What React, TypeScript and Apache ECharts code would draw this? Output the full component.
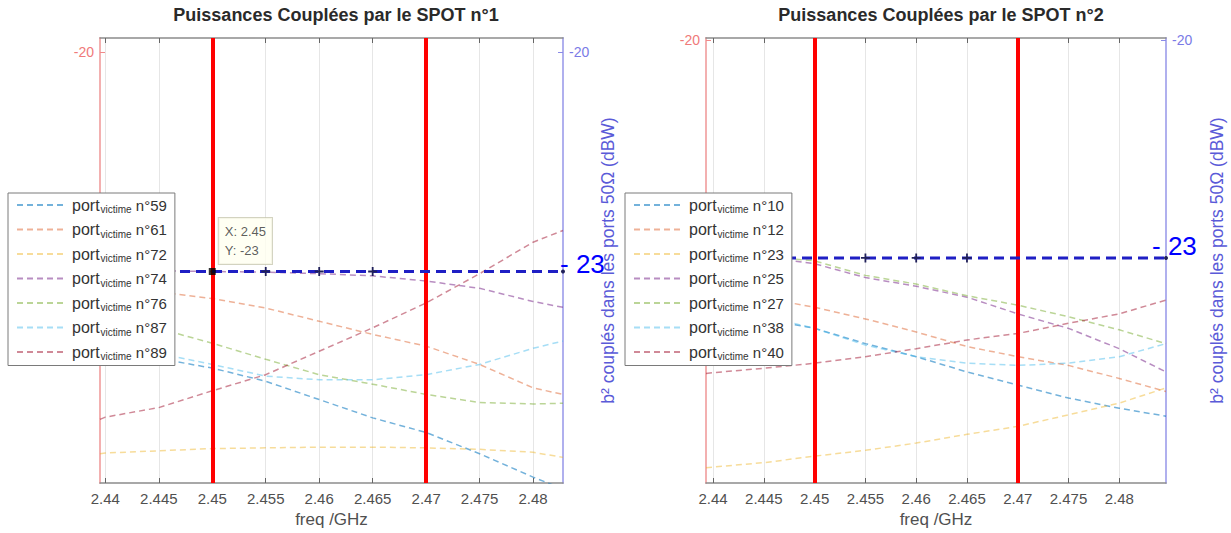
import React, { useEffect, useRef } from 'react';
import * as echarts from 'echarts';

// ---------- data ----------
const xTickLabels = ['2.44', '2.445', '2.45', '2.455', '2.46', '2.465', '2.47', '2.475', '2.48'];
const xTicks = xTickLabels.map(Number);

const freq1 = [2.4395, 2.44, 2.445, 2.45, 2.455, 2.46, 2.465, 2.47, 2.475, 2.48, 2.4828];
const freq2 = [2.4393, 2.44, 2.445, 2.45, 2.455, 2.46, 2.465, 2.47, 2.475, 2.48, 2.4846];

const names1 = ['n°59', 'n°61', 'n°72', 'n°74', 'n°76', 'n°87', 'n°89'];
const names2 = ['n°10', 'n°12', 'n°23', 'n°25', 'n°27', 'n°38', 'n°40'];

// SPOT n°1 (dBW)
const p59 = [-24.03, -24.05, -24.19, -24.32, -24.5, -24.75, -25.0, -25.2, -25.49, -25.81, -25.97];
const p61 = [-23.19, -23.2, -23.28, -23.37, -23.5, -23.68, -23.86, -24.02, -24.27, -24.59, -24.68];
const p72 = [-25.49, -25.48, -25.45, -25.42, -25.41, -25.4, -25.4, -25.41, -25.43, -25.47, -25.54];
const p74 = [-22.97, -22.98, -22.99, -23.0, -23.01, -23.03, -23.06, -23.13, -23.23, -23.41, -23.49];
const p76 = [-23.62, -23.65, -23.78, -23.98, -24.2, -24.41, -24.54, -24.68, -24.79, -24.81, -24.8];
const p87 = [-23.98, -24.0, -24.12, -24.27, -24.43, -24.48, -24.48, -24.41, -24.27, -24.05, -23.95];
const p89 = [-25.02, -24.99, -24.86, -24.63, -24.41, -24.09, -23.77, -23.43, -23.03, -22.6, -22.44];

// SPOT n°2 (dBW)
const p10 = [-23.72, -23.74, -23.84, -23.97, -24.18, -24.36, -24.57, -24.75, -24.93, -25.07, -25.18];
const p12 = [-23.42, -23.44, -23.55, -23.68, -23.84, -24.02, -24.22, -24.36, -24.48, -24.66, -24.84];
const p23 = [-25.89, -25.88, -25.82, -25.73, -25.65, -25.55, -25.43, -25.32, -25.16, -25.0, -24.79];
const p25 = [-22.95, -22.96, -22.99, -23.08, -23.27, -23.39, -23.54, -23.77, -23.97, -24.25, -24.57];
const p27 = [-22.94, -22.95, -22.98, -23.04, -23.24, -23.36, -23.52, -23.65, -23.81, -23.99, -24.18];
const p38 = [-23.68, -23.7, -23.8, -23.97, -24.2, -24.36, -24.45, -24.48, -24.45, -24.36, -24.18];
const p40 = [-24.59, -24.58, -24.52, -24.45, -24.36, -24.25, -24.13, -24.04, -23.9, -23.77, -23.58];

const values1 = [p59, p61, p72, p74, p76, p87, p89];
const values2 = [p10, p12, p23, p25, p27, p38, p40];

const threshold = -23;
const thresholdLabel = '- 23';
const markerFreqs = [2.455, 2.46, 2.465];
const cursorFreqs = [2.45, 2.47];
const datatip = [2.45, -23];
const yTickValues = [-20];
const yRange1 = [-25.89, -19.81];
const yRange2 = [-26.1, -19.97];
const xRange1 = [2.4395, 2.4828];
const xRange2 = [2.4393, 2.4846];

const titles = ['Puissances Couplées par le SPOT n°1', 'Puissances Couplées par le SPOT n°2'];
const xName = 'freq /GHz';
const yRightName = 'b² couplés dans les ports 50Ω (dBW)';

const lineColors = [
  'rgba(0,114,189,0.55)',
  'rgba(217,83,25,0.45)',
  'rgba(237,177,32,0.45)',
  'rgba(126,47,142,0.55)',
  'rgba(119,172,48,0.5)',
  'rgba(77,190,238,0.5)',
  'rgba(162,20,47,0.5)',
];

const FONT = '"Liberation Sans", Arial, Helvetica, sans-serif';
const PLUS = 'path://M4,0H6V10H4ZM0,4H10V6H0Z';

function buildOption() {
  const grids = [
    { left: 100, top: 38, width: 463, height: 448 },
    { left: 706, top: 38, width: 460, height: 447 },
  ];
  const xRanges = [xRange1, xRange2];
  const yRanges = [yRange1, yRange2];
  const rightNameGaps = [36, 42];

  const xAxis: any[] = [];
  const yAxis: any[] = [];
  [0, 1].forEach((g) => {
    xAxis.push({
      gridIndex: g,
      type: 'value',
      min: xRanges[g][0],
      max: xRanges[g][1],
      splitNumber: 9,
      axisLine: { lineStyle: { color: '#8c8c8c', width: 1.5 } },
      axisTick: { inside: true, length: 5, customValues: xTicks, lineStyle: { color: '#666' } },
      axisLabel: {
        customValues: xTicks,
        formatter: (v: number) => xTickLabels[xTicks.findIndex((t) => Math.abs(t - v) < 1e-9)] ?? '',
        color: '#505050',
        fontSize: 15,
        fontFamily: FONT,
        margin: 8,
      },
      splitLine: { show: true, lineStyle: { color: '#e6e6e6', width: 1 } },
      name: xName,
      nameLocation: 'middle',
      nameGap: 28,
      nameTextStyle: { color: '#505050', fontSize: 17, fontFamily: FONT },
    });
    xAxis.push({
      gridIndex: g,
      type: 'value',
      position: 'top',
      min: xRanges[g][0],
      max: xRanges[g][1],
      axisLine: { lineStyle: { color: '#8c8c8c', width: 1.5 } },
      axisTick: { inside: true, length: 5, customValues: xTicks, lineStyle: { color: '#666' } },
      axisLabel: { show: false },
      splitLine: { show: false },
    });
    yAxis.push({
      gridIndex: g,
      type: 'value',
      position: 'left',
      min: yRanges[g][0],
      max: yRanges[g][1],
      axisLine: { show: true, lineStyle: { color: '#f3b0b0', width: 2 } },
      axisTick: { show: true, inside: true, length: 5, customValues: yTickValues, lineStyle: { color: '#f08a8a' } },
      axisLabel: { customValues: yTickValues, color: '#f07a7a', fontSize: 14, fontFamily: FONT, margin: 6 },
      splitLine: { show: false },
    });
    yAxis.push({
      gridIndex: g,
      type: 'value',
      position: 'right',
      min: yRanges[g][0],
      max: yRanges[g][1],
      axisLine: { show: true, lineStyle: { color: '#b0b0ee', width: 2 } },
      axisTick: { show: true, inside: true, length: 5, customValues: yTickValues, lineStyle: { color: '#8a8ae8' } },
      axisLabel: { customValues: yTickValues, color: '#7a7ae6', fontSize: 14, fontFamily: FONT, margin: 6 },
      splitLine: { show: false },
      name: yRightName,
      nameLocation: 'middle',
      nameRotate: 90,
      nameGap: rightNameGaps[g],
      nameTextStyle: { color: '#5a5ad8', fontSize: 17.5, fontFamily: FONT },
    });
  });

  const series: any[] = [];
  const freqs = [freq1, freq2];
  const names = [names1, names2];
  const values = [values1, values2];
  const labelOffsets = [[-10, -7], [-21, -12]];

  [0, 1].forEach((g) => {
    names[g].forEach((name, i) => {
      series.push({
        type: 'line',
        name,
        xAxisIndex: g * 2,
        yAxisIndex: g * 2,
        data: freqs[g].map((f, k) => [f, values[g][i][k]]),
        symbol: 'none',
        lineStyle: { color: lineColors[i], width: 1.5, type: [6, 4] },
        itemStyle: { color: lineColors[i] },
        z: 2,
        silent: true,
      });
    });
    const fx = freqs[g];
    const tPoints = [fx[0], ...markerFreqs, fx[fx.length - 1]];
    series.push({
      type: 'line',
      name: 'seuil' + g,
      xAxisIndex: g * 2,
      yAxisIndex: g * 2,
      data: tPoints.map((f, k) => {
        const isEnd = k === 0 || k === tPoints.length - 1;
        return {
          value: [f, threshold],
          symbol: isEnd ? 'circle' : PLUS,
          symbolSize: isEnd ? 4 : 9,
          label:
            k === tPoints.length - 1
              ? {
                  show: true,
                  position: 'right',
                  offset: labelOffsets[g],
                  formatter: thresholdLabel,
                  color: '#0000ff',
                  fontSize: 26,
                  fontFamily: FONT,
                }
              : { show: false },
        };
      }),
      showAllSymbol: true,
      itemStyle: { color: '#20205a' },
      lineStyle: { color: '#1f1fc4', width: 3, type: [10, 6] },
      z: 5,
      silent: true,
      markLine: {
        silent: true,
        symbol: ['none', 'none'],
        label: { show: false },
        lineStyle: { color: '#ff0000', width: 4, type: 'solid' },
        data: cursorFreqs.map((f) => ({ xAxis: f })),
      },
    });
  });

  series.push({
    type: 'scatter',
    name: 'datatip',
    xAxisIndex: 0,
    yAxisIndex: 0,
    data: [datatip],
    symbol: 'rect',
    symbolSize: 7,
    itemStyle: { color: '#000' },
    z: 10,
    silent: true,
    label: {
      show: true,
      position: [10, -50],
      formatter: (p: any) => `X: ${p.value[0]}\nY: ${p.value[1]}`,
      backgroundColor: '#fffff0',
      borderColor: '#c8c8b0',
      borderWidth: 1,
      padding: [4, 6, 4, 6],
      color: '#333',
      fontSize: 13,
      lineHeight: 19,
      fontFamily: FONT,
      align: 'left',
    },
  });

  const legendFormatter = (name: string) => `{p|port}{s|victime}{n| ${name}}`;
  const legendRich = {
    p: { fontSize: 16, color: '#333', fontFamily: FONT },
    s: { fontSize: 10, color: '#333', fontFamily: FONT, padding: [9, 0, 0, 1] },
    n: { fontSize: 15, color: '#333', fontFamily: FONT },
  };
  const legendBase = {
    orient: 'vertical',
    top: 193,
    padding: [4, 8, 4, 8],
    itemGap: 7,
    itemWidth: 50,
    itemHeight: 14,
    backgroundColor: '#ffffff',
    borderColor: '#7a7a7a',
    borderWidth: 1,
    selectedMode: false,
    formatter: legendFormatter,
    textStyle: { rich: legendRich },
    itemStyle: { color: 'transparent', borderColor: 'transparent', borderWidth: 0, opacity: 0 },
    z: 20,
  };

  return {
    animation: false,
    backgroundColor: '#ffffff',
    title: [
      {
        text: titles[0],
        left: 331,
        textAlign: 'center',
        top: 1,
        textStyle: { fontSize: 18, fontWeight: 'bold', color: '#2a2a2a', fontFamily: FONT },
      },
      {
        text: titles[1],
        left: 936,
        textAlign: 'center',
        top: 1,
        textStyle: { fontSize: 18, fontWeight: 'bold', color: '#2a2a2a', fontFamily: FONT },
      },
    ],
    legend: [
      { ...legendBase, data: names1, left: 8 },
      { ...legendBase, data: names2, left: 625 },
    ],
    grid: grids,
    xAxis,
    yAxis,
    series,
  };
}

export default function App() {
  const ref = useRef<HTMLDivElement>(null);
  useEffect(() => {
    document.body.style.margin = '0';
    if (!ref.current) return;
    const chart = echarts.init(ref.current, undefined, { renderer: 'svg' });
    chart.setOption(buildOption() as any);
    return () => chart.dispose();
  }, []);
  return <div ref={ref} style={{ width: 1231, height: 533 }} />;
}
